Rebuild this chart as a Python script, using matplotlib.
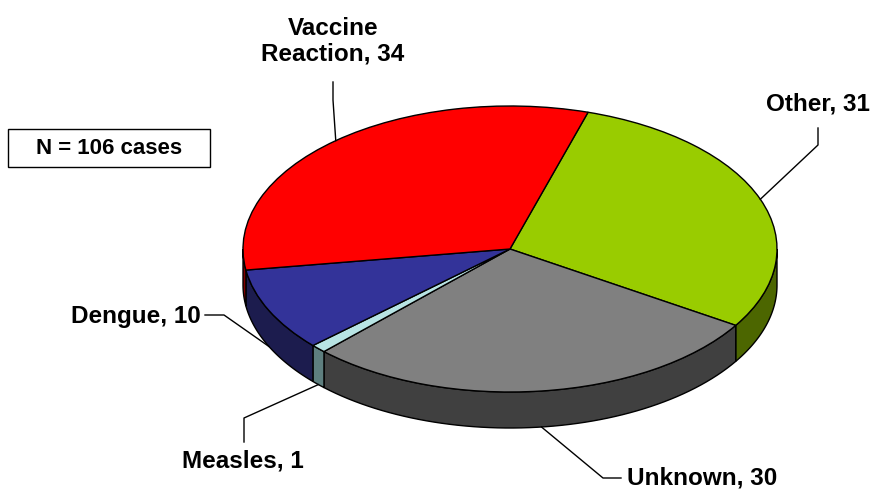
import numpy as np
import matplotlib
matplotlib.use('Agg')
import matplotlib.pyplot as plt
from matplotlib.patches import Polygon, Rectangle
from matplotlib.transforms import Affine2D

# data, clockwise from the top
labels = ['Other', 'Unknown', 'Measles', 'Dengue', 'Vaccine\nReaction']
counts = [31, 30, 1, 10, 34]
top_colors = ['#99CC00', '#808080', '#B8E4E4', '#333399', '#FF0000']
side_colors = ['#4C6600', '#404040', '#5E7F7F', '#1C1C4E', '#800000']

# layout (pixels, y up)
W, H = 874, 492
cx, cy = 510, 243
a, b = 267, 143
depth = 36
start = 73.0

fig = plt.figure(figsize=(W / 100, H / 100), dpi=100)
ax = fig.add_axes([0, 0, 1, 1])

squash = Affine2D().scale(a, b).translate(cx, cy) + ax.transData

# angle ranges of each slice (math degrees, going clockwise)
total = float(sum(counts))
edges = start - 360.0 * np.concatenate([[0], np.cumsum(counts)]) / total

# side walls: only the front half (-180..0) is visible
for i in range(len(counts)):
    hi, lo = edges[i], edges[i + 1]
    t1, t2 = max(lo, -180.0), min(hi, 0.0)
    if t2 <= t1:
        continue
    t = np.radians(np.linspace(t1, t2, 60))
    xs = cx + a * np.cos(t)
    ys = cy + b * np.sin(t)
    pts = np.concatenate([np.column_stack([xs, ys]),
                          np.column_stack([xs[::-1], ys[::-1] - depth])])
    ax.add_patch(Polygon(pts, closed=True, facecolor=side_colors[i],
                         edgecolor='black', linewidth=1.0, zorder=2))

wedges, _ = ax.pie(counts, colors=top_colors, startangle=start, counterclock=False,
                   radius=1, center=(0, 0),
                   wedgeprops=dict(edgecolor='black', linewidth=1.0))
for w in wedges:
    w.set_transform(squash)
    w.set_zorder(3)
ax.set_xlim(0, W)
ax.set_ylim(0, H)
ax.set_aspect('auto')
ax.axis('off')

# leader anchors at the middle of each slice
def anchor(i):
    m = np.radians((edges[i] + edges[i + 1]) / 2)
    x = cx + a * np.cos(m)
    y = cy + b * np.sin(m)
    if np.sin(m) < 0:
        y -= depth
    return x, y

# label text position, alignment, elbow points (image px, y down)
label_layout = {
    'Other':   dict(xy=(818, 104), ha='center', path=[(818, 128), (818, 145)]),
    'Unknown': dict(xy=(627, 478), ha='left', path=[(621, 478), (603, 478)]),
    'Measles': dict(xy=(243, 461), ha='center', path=[(244, 442), (244, 418)]),
    'Dengue':  dict(xy=(201, 316), ha='right', path=[(205, 315), (224, 315)]),
    'Vaccine\nReaction': dict(xy=(333, 41), ha='center', path=[(333, 82), (333, 100)]),
}

for i, lab in enumerate(labels):
    lay = label_layout[lab]
    tx, ty = lay['xy']
    ax.text(tx, H - ty, f'{lab}, {counts[i]}', ha=lay['ha'], va='center',
            fontsize=17.5, fontweight='bold', family='Liberation Sans',
            linespacing=1.12, zorder=5)
    ax_, ay_ = anchor(i)
    px = [p[0] for p in lay['path']] + [ax_]
    py = [H - p[1] for p in lay['path']] + [ay_]
    ax.plot(px, py, color='black', linewidth=1.0, zorder=4)

ax.add_patch(Rectangle((8, H - 167), 202, 38, facecolor='white',
                       edgecolor='black', linewidth=1.0, zorder=4))
ax.text(109, H - 148, 'N = 106 cases', ha='center', va='center', fontsize=16,
        fontweight='bold', family='Liberation Sans', zorder=5)

fig.savefig('out.png', dpi=100)
